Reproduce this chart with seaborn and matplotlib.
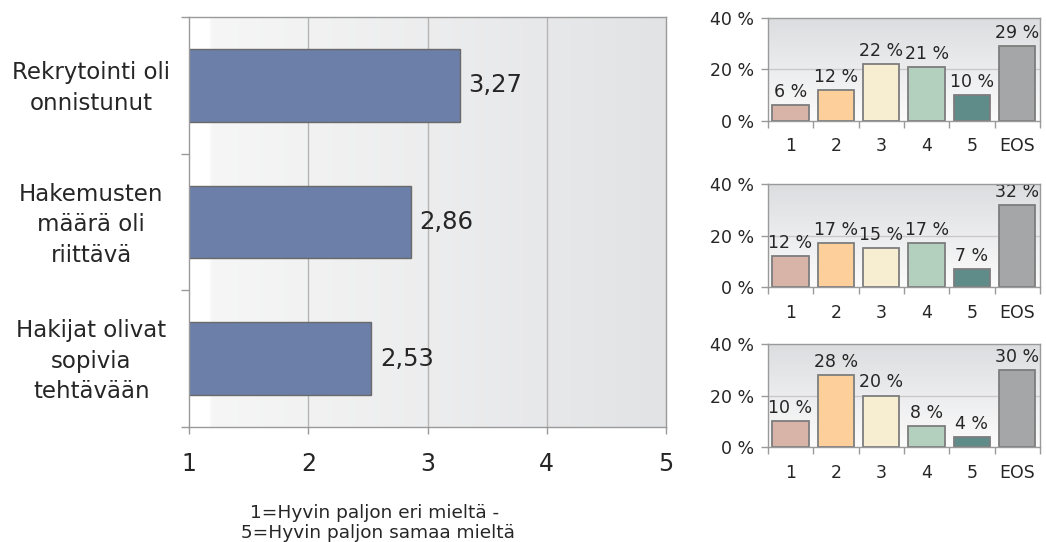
import numpy as np
import matplotlib
matplotlib.use("Agg")
import matplotlib.pyplot as plt
from matplotlib.colors import to_rgb
from matplotlib.ticker import FixedLocator
import seaborn as sns

# Mean agreement scores (scale 1-5)
categories = ["Rekrytointi oli\nonnistunut",
              "Hakemusten\nmäärä oli\nriittävä",
              "Hakijat olivat\nsopivia\ntehtävään"]
means = [3.27, 2.86, 2.53]
mean_ticks = [1, 2, 3, 4, 5]

# Answer distributions (%) per statement
scale_labels = ["1", "2", "3", "4", "5", "EOS"]
dist_rekrytointi = [6, 12, 22, 21, 10, 29]
dist_hakemukset = [12, 17, 15, 17, 7, 32]
dist_hakijat = [10, 28, 20, 8, 4, 30]
pct_ticks = [0, 20, 40]

scale_note = "1=Hyvin paljon eri mieltä -\n 5=Hyvin paljon samaa mieltä"

bar_color = "#6c7fa8"
dist_colors = ["#d8b3a7", "#fdd09b", "#f7edd1", "#b3d0bf", "#5f8c88", "#a5a6a8"]
text_color = "#262626"
frame_color = "#9a9a9a"

sns.set_theme(style="white")
plt.rcParams["font.family"] = ["DejaVu Sans"]

fig = plt.figure(figsize=(10.46, 5.42), dpi=100)


def lerp(c1, c2, t):
    a, b = np.array(to_rgb(c1)), np.array(to_rgb(c2))
    return a + (b - a) * t


# ---- main horizontal bar chart ----
ax = fig.add_axes([0.1807, 0.2122, 0.4560, 0.7564])
sns.barplot(x=means, y=categories, orient="h", color=bar_color, saturation=1,
            width=0.53, edgecolor="#6a6a6a", linewidth=1.0, ax=ax, zorder=3)

n = 200
t = np.linspace(0, 1, n)
grad = np.array([[(1, 1, 1) if v < 0.045 else lerp("#f7f7f7", "#e2e3e5", v) for v in t]])
ax.imshow(grad, extent=(0, 1, 0, 1), transform=ax.transAxes, aspect="auto",
          zorder=0, interpolation="bilinear")

ax.set_xlim(1, 5)
ax.set_ylim(2.5, -0.5)
ax.set_xticks(mean_ticks)
ax.set_xticklabels([str(v) for v in mean_ticks], fontsize=17, color=text_color)
for v in mean_ticks[1:-1]:
    ax.axvline(v, color="#b5b5b5", lw=1.0, zorder=1)
ax.set_yticks([])
ax.yaxis.set_minor_locator(FixedLocator([-0.5, 0.5, 1.5, 2.5]))
ax.tick_params(axis="y", which="minor", left=True, length=6, width=1, color=frame_color)
ax.tick_params(axis="x", which="major", bottom=True, length=5, width=1,
               color=frame_color, pad=13)
ax.set_xlabel("")
ax.set_ylabel("")
for s in ax.spines.values():
    s.set_color(frame_color)
    s.set_linewidth(1.0)
    s.set_zorder(4)

for i, cat in enumerate(categories):
    ax.text(-0.205, i + 0.02, cat, transform=ax.get_yaxis_transform(), ha="center",
            va="center", multialignment="center", fontsize=16.5,
            color=text_color, linespacing=1.42)

ax.bar_label(ax.containers[0], labels=[f"{v:.2f}".replace(".", ",") for v in means],
             padding=6, fontsize=17.5, color=text_color)

fig.text(0.358, 1 - 523 / 542, scale_note, ha="center", va="center",
         multialignment="center", fontsize=13.3, color=text_color, linespacing=1.15)

# ---- distribution panels ----
panels = [(dist_rekrytointi, 0.7773), (dist_hakemukset, 0.4705), (dist_hakijat, 0.1753)]
vgrad = np.array([[lerp("#dcdde0", "#fcfcfc", v)] for v in np.linspace(0, 1, n)])

for values, bottom in panels:
    sax = fig.add_axes([0.7340, bottom, 0.2603, 0.1895])
    sns.barplot(x=scale_labels, y=values, hue=scale_labels, palette=dist_colors,
                legend=False, saturation=1, width=0.8, edgecolor="#7d7d7d",
                linewidth=1.3, ax=sax, zorder=3)
    sax.imshow(vgrad, extent=(0, 1, 0, 1), transform=sax.transAxes, aspect="auto",
               zorder=0, interpolation="bilinear")
    sax.set_xlim(-0.5, len(scale_labels) - 0.5)
    sax.set_ylim(0, 40)
    sax.set_yticks(pct_ticks)
    sax.set_yticklabels([f"{v} %" for v in pct_ticks], fontsize=12.5, color=text_color)
    sax.axhline(20, color="#c9c9c9", lw=1.0, zorder=1)
    sax.set_xticks(range(len(scale_labels)))
    sax.set_xticklabels(scale_labels, fontsize=12.5, color=text_color)
    sax.xaxis.set_minor_locator(FixedLocator(np.arange(-0.5, len(scale_labels), 1.0)))
    sax.tick_params(axis="x", which="major", bottom=False, pad=6)
    sax.tick_params(axis="x", which="minor", bottom=True, length=5, width=1, color=frame_color)
    sax.tick_params(axis="y", which="major", left=True, length=5, width=1,
                    color=frame_color, pad=5)
    sax.set_xlabel("")
    sax.set_ylabel("")
    for s in sax.spines.values():
        s.set_color(frame_color)
        s.set_linewidth(1.0)
        s.set_zorder(4)
    for cont in sax.containers:
        sax.bar_label(cont, labels=[f"{int(b.get_height())} %" for b in cont],
                      padding=3, fontsize=12.5, color=text_color, clip_on=False)

fig.savefig("out.png", dpi=100, facecolor="white")
